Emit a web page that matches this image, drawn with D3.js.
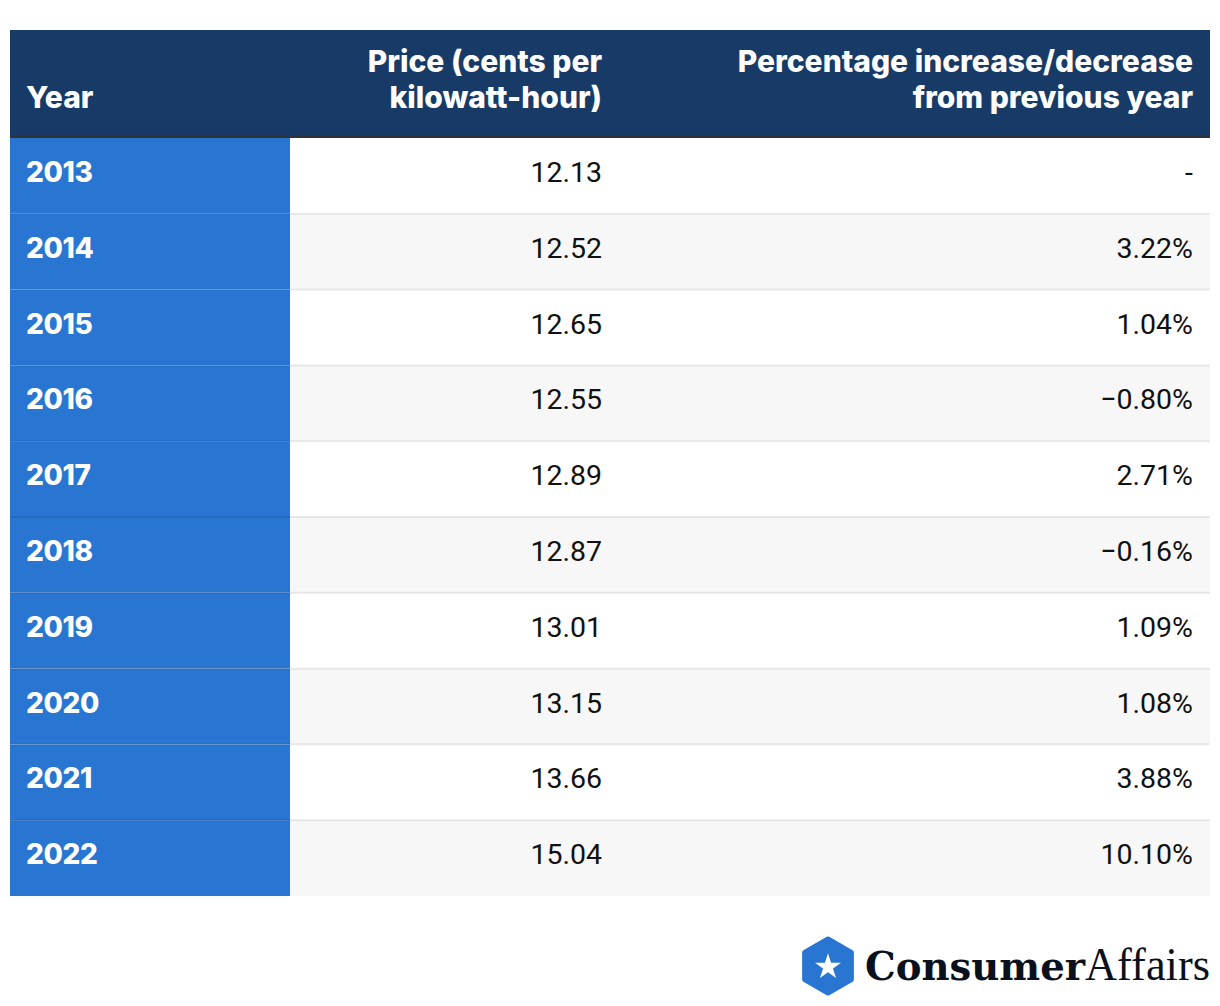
<!DOCTYPE html>
<html lang="en">
<head>
    <meta charset="UTF-8">
    <title>Electricity prices by year</title>
    <script src="https://d3js.org/d3.v7.min.js"></script>
    <style>
        body {
            margin: 0;
            padding: 0;
            background: #fff;
            font-family: Roboto, 'Noto Sans', sans-serif;
        }
        .head-text {
            fill: #fff;
            font-family: Inter, Roboto, sans-serif;
            font-weight: 800;
            font-size: 30px;
            letter-spacing: 0px;
        }
        .year-text {
            fill: #fff;
            font-family: Inter, Roboto, sans-serif;
            font-weight: 800;
            font-size: 28px;
            letter-spacing: -0.4px;
        }
        .cell-text {
            fill: #111;
            font-size: 28.5px;
        }
    </style>
</head>
<body>
    <div id="chart"></div>

    <script>
        const years = ["2013", "2014", "2015", "2016", "2017", "2018", "2019", "2020", "2021", "2022"];
        const prices = [12.13, 12.52, 12.65, 12.55, 12.89, 12.87, 13.01, 13.15, 13.66, 15.04];
        const changes = [null, 3.22, 1.04, -0.80, 2.71, -0.16, 1.09, 1.08, 3.88, 10.10];
        const headers = [["Year"], ["Price (cents per", "kilowatt-hour)"], ["Percentage increase/decrease", "from previous year"]];

        const W = 1220, H = 1006;
        const left = 10, right = 1210;
        const headTop = 30, headBottom = 136;
        const bodyTop = 138, bodyBottom = 896;

        const svg = d3.select("#chart").append("svg")
            .attr("width", W)
            .attr("height", H);

        const y = d3.scaleBand()
            .domain(years)
            .range([bodyTop, bodyBottom]);

        // text anchors of the three columns
        const colX = [26, 602, 1193];

        // header
        svg.append("rect")
            .attr("x", left).attr("y", headTop)
            .attr("width", right - left).attr("height", headBottom - headTop)
            .attr("fill", "#173a66");
        svg.append("rect")
            .attr("x", left).attr("y", headBottom - 1)
            .attr("width", right - left).attr("height", 3)
            .attr("fill", "#2f3338");

        headers.forEach((lines, i) => {
            const t = svg.append("text")
                .attr("class", "head-text")
                .attr("text-anchor", i === 0 ? "start" : "end");
            lines.forEach((l, j) => {
                t.append("tspan")
                    .attr("x", colX[i])
                    .attr("y", 108 - (lines.length - 1 - j) * 36)
                    .text(l);
            });
        });

        // rows
        const fmtChange = d => d === null ? "-" : d3.format(".2f")(d).replace("-", "\u2212") + "%";

        const row = svg.selectAll("g.row")
            .data(years)
            .join("g")
            .attr("class", "row")
            .attr("transform", d => `translate(0,${y(d)})`);

        row.append("rect")
            .attr("x", left)
            .attr("width", right - left)
            .attr("height", y.bandwidth())
            .attr("fill", (d, i) => i % 2 ? "#f7f7f7" : "#fff");

        row.append("rect")
            .attr("x", left)
            .attr("width", 290 - left)
            .attr("height", y.bandwidth())
            .attr("fill", "#2976d2");

        // thin grey rule between rows, drawn over the blue column too
        row.filter((d, i) => i > 0).append("rect")
            .attr("x", left)
            .attr("y", -1)
            .attr("width", right - left)
            .attr("height", 2)
            .attr("fill", "rgba(0,0,0,0.08)");

        row.append("text")
            .attr("class", "year-text")
            .attr("x", colX[0])
            .attr("y", 44)
            .text(d => d);

        row.append("text")
            .attr("class", "cell-text")
            .attr("x", colX[1])
            .attr("y", 44)
            .attr("text-anchor", "end")
            .text((d, i) => d3.format(".2f")(prices[i]));

        row.append("text")
            .attr("class", "cell-text")
            .attr("x", colX[2])
            .attr("y", 44)
            .attr("text-anchor", "end")
            .text((d, i) => fmtChange(changes[i]));

        // logo
        const logo = svg.append("g").attr("transform", "translate(828,966)");
        const hex = d3.range(6).map(k => {
            const a = Math.PI / 3 * k - Math.PI / 2;
            return [27 * Math.cos(a), 27 * Math.sin(a)];
        });
        logo.append("path")
            .attr("d", d3.line().curve(d3.curveLinearClosed)(hex))
            .attr("fill", "#2976d2")
            .attr("stroke", "#2976d2")
            .attr("stroke-width", 5)
            .attr("stroke-linejoin", "round");
        logo.append("path")
            .attr("d", d3.symbol(d3.symbolStar, 210)())
            .attr("transform", "translate(0,1)")
            .attr("fill", "#fff");

        const brand = svg.append("text")
            .attr("x", 865)
            .attr("y", 980)
            .attr("fill", "#0b111c")
            .style("font-family", "'DejaVu Serif', serif")
            .style("font-size", "40px")
            .attr("textLength", 345)
            .attr("lengthAdjust", "spacingAndGlyphs");
        brand.append("tspan").style("font-weight", 700).text("Consumer");
        brand.append("tspan").style("font-family", "'Liberation Serif', serif").style("font-size", "46px").text("Affairs");
    </script>
</body>
</html>
